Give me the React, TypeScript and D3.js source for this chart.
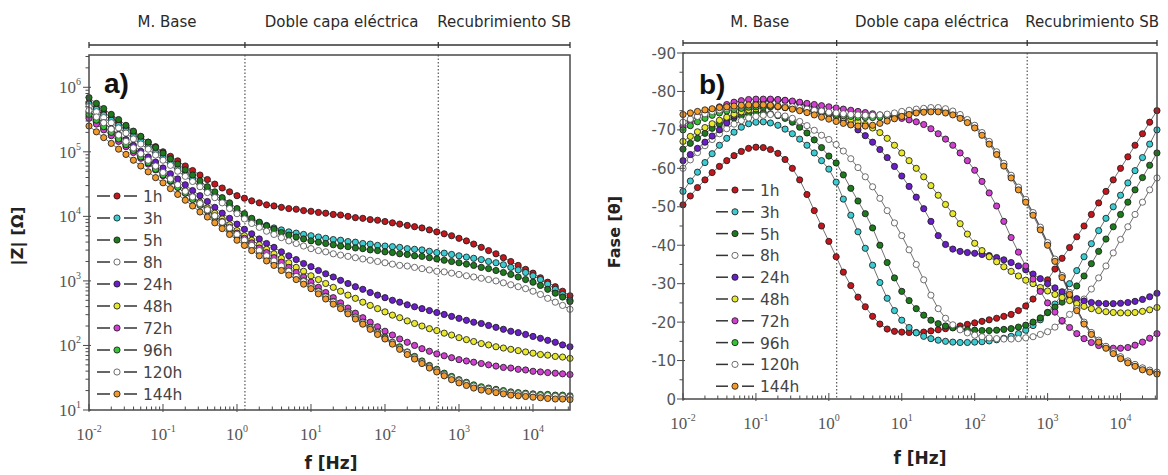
import React from "react";
import * as d3 from "d3";

// ---------------- DATA ----------------
const FREQ_HZ = [
  0.01, 0.0126, 0.0158, 0.02, 0.0251, 0.0316, 0.0398, 0.0501, 0.0631, 0.0794,
  0.1, 0.126, 0.158, 0.2, 0.251, 0.316, 0.398, 0.501, 0.631, 0.794,
  1, 1.26, 1.58, 2, 2.51, 3.16, 3.98, 5.01, 6.31, 7.94,
  10, 12.6, 15.8, 20, 25.1, 31.6, 39.8, 50.1, 63.1, 79.4,
  100, 126, 158, 200, 251, 316, 398, 501, 631, 794,
  1000, 1260, 1580, 2000, 2510, 3160, 3980, 5010, 6310, 7940,
  10000, 12600, 15800, 20000, 25100, 31600,
];

const SERIES_LABELS = ["1h", "3h", "5h", "8h", "24h", "48h", "72h", "96h", "120h", "144h"];

// |Z| in ohm
const Z_1H = [
  5.75e5, 4.79e5, 4.07e5, 3.39e5, 2.88e5, 2.4e5, 2.0e5, 1.7e5, 1.41e5, 1.2e5,
  1.0e5, 8.51e4, 7.24e4, 6.03e4, 5.13e4, 4.37e4, 3.72e4, 3.16e4, 2.75e4, 2.4e4,
  2.09e4, 1.91e4, 1.74e4, 1.62e4, 1.51e4, 1.45e4, 1.38e4, 1.32e4, 1.29e4, 1.23e4,
  1.2e4, 1.15e4, 1.12e4, 1.07e4, 1.05e4, 1.0e4, 9550, 9330, 8910, 8710,
  8320, 7940, 7590, 7240, 6920, 6610, 6170, 5750, 5370, 5010,
  4570, 4170, 3720, 3310, 2950, 2630, 2290, 2000, 1740, 1510,
  1320, 1120, 955, 813, 692, 589,
];
const Z_3H = [
  5.5e5, 4.57e5, 3.72e5, 3.09e5, 2.57e5, 2.14e5, 1.74e5, 1.45e5, 1.2e5, 9.77e4,
  8.13e4, 6.76e4, 5.5e4, 4.57e4, 3.8e4, 3.16e4, 2.57e4, 2.14e4, 1.78e4, 1.45e4,
  1.2e4, 1.02e4, 8910, 7940, 7240, 6610, 6170, 5750, 5500, 5250,
  5010, 4790, 4570, 4370, 4270, 4070, 3980, 3800, 3720, 3550,
  3470, 3390, 3310, 3160, 3090, 3020, 2880, 2750, 2690, 2570,
  2450, 2340, 2240, 2140, 2000, 1910, 1780, 1620, 1480, 1350,
  1200, 1050, 891, 741, 617, 501,
];
const Z_5H = [
  6.92e5, 5.62e5, 4.68e5, 3.8e5, 3.16e5, 2.57e5, 2.09e5, 1.74e5, 1.41e5, 1.17e5,
  9.55e4, 7.76e4, 6.46e4, 5.25e4, 4.37e4, 3.55e4, 2.88e4, 2.4e4, 1.95e4, 1.62e4,
  1.32e4, 1.1e4, 9330, 8130, 7080, 6310, 5620, 5130, 4790, 4470,
  4170, 3980, 3800, 3630, 3470, 3390, 3240, 3160, 3020, 2950,
  2820, 2750, 2630, 2570, 2450, 2400, 2290, 2190, 2090, 2000,
  1910, 1820, 1740, 1620, 1550, 1450, 1350, 1260, 1150, 1050,
  955, 851, 741, 646, 562, 479,
];
const Z_8H = [
  5.01e5, 4.17e5, 3.39e5, 2.82e5, 2.34e5, 1.95e5, 1.58e5, 1.32e5, 1.1e5, 8.91e4,
  7.41e4, 6.17e4, 5.01e4, 4.17e4, 3.47e4, 2.88e4, 2.34e4, 1.95e4, 1.62e4, 1.32e4,
  1.1e4, 9120, 7760, 6760, 5890, 5250, 4680, 4170, 3800, 3470,
  3160, 2950, 2820, 2630, 2510, 2400, 2290, 2190, 2090, 2000,
  1910, 1820, 1740, 1700, 1620, 1550, 1480, 1410, 1380, 1320,
  1260, 1200, 1150, 1100, 1050, 1000, 933, 871, 813, 759,
  692, 617, 537, 468, 417, 363,
];
const Z_24H = [
  4.17e5, 3.39e5, 2.82e5, 2.29e5, 1.86e5, 1.55e5, 1.26e5, 1.02e5, 8.32e4, 6.92e4,
  5.62e4, 4.57e4, 3.8e4, 3.09e4, 2.51e4, 2.09e4, 1.7e4, 1.38e4, 1.12e4, 9330,
  7590, 6310, 5370, 4470, 3800, 3310, 2820, 2450, 2140, 1860,
  1660, 1450, 1290, 1150, 1020, 912, 813, 741, 661, 603,
  550, 501, 468, 427, 398, 372, 347, 324, 302, 282,
  263, 245, 229, 219, 204, 191, 178, 166, 158, 148,
  138, 129, 120, 112, 102, 95.5,
];
const Z_48H = [
  3.55e5, 2.88e5, 2.34e5, 1.91e5, 1.58e5, 1.29e5, 1.05e5, 8.51e4, 6.92e4, 5.62e4,
  4.68e4, 3.8e4, 3.09e4, 2.51e4, 2.04e4, 1.66e4, 1.35e4, 1.12e4, 9120, 7410,
  6030, 5010, 4270, 3630, 3090, 2630, 2240, 1910, 1620, 1410,
  1200, 1050, 912, 794, 692, 603, 537, 468, 417, 372,
  331, 295, 269, 240, 219, 200, 182, 170, 155, 145,
  132, 123, 115, 107, 102, 95.5, 91.2, 87.1, 83.2, 79.4,
  75.9, 72.4, 70.8, 67.6, 66.1, 63.1,
];
const Z_72H = [
  3.31e5, 2.69e5, 2.19e5, 1.78e5, 1.45e5, 1.2e5, 9.77e4, 7.94e4, 6.46e4, 5.25e4,
  4.27e4, 3.47e4, 2.82e4, 2.29e4, 1.86e4, 1.55e4, 1.26e4, 1.02e4, 8320, 6760,
  5500, 4570, 3890, 3240, 2750, 2290, 1950, 1620, 1350, 1150,
  955, 794, 661, 550, 457, 380, 316, 269, 229, 195,
  166, 145, 126, 112, 100, 89.1, 81.3, 74.1, 69.2, 64.6,
  60.3, 57.5, 55.0, 52.5, 50.1, 47.9, 45.7, 44.7, 42.7, 41.7,
  39.8, 38.9, 38.0, 37.2, 36.3, 35.5,
];
const Z_96H = [
  3.8e5, 3.09e5, 2.45e5, 2.0e5, 1.58e5, 1.29e5, 1.05e5, 8.32e4, 6.76e4, 5.37e4,
  4.37e4, 3.55e4, 2.82e4, 2.29e4, 1.82e4, 1.48e4, 1.2e4, 9550, 7760, 6170,
  5010, 4170, 3470, 2880, 2400, 2000, 1660, 1410, 1170, 1000,
  832, 692, 575, 479, 398, 331, 275, 229, 191, 162,
  135, 112, 95.5, 79.4, 67.6, 57.5, 49.0, 42.7, 37.2, 33.1,
  29.5, 26.9, 24.5, 22.9, 21.9, 20.9, 20.0, 19.1, 18.6, 18.2,
  17.8, 17.4, 17.4, 17.0, 17.0, 16.6,
];
const Z_120H = [
  4.37e5, 3.47e5, 2.82e5, 2.24e5, 1.82e5, 1.45e5, 1.15e5, 9.33e4, 7.41e4, 6.03e4,
  4.79e4, 3.8e4, 3.09e4, 2.45e4, 2.0e4, 1.58e4, 1.26e4, 1.02e4, 8130, 6610,
  5250, 4270, 3550, 2950, 2450, 2040, 1700, 1410, 1170, 977,
  813, 676, 562, 468, 389, 324, 269, 224, 186, 155,
  129, 110, 91.2, 77.6, 64.6, 55.0, 46.8, 40.7, 35.5, 31.6,
  28.2, 25.7, 23.4, 21.9, 20.9, 20.0, 19.1, 18.2, 17.8, 17.4,
  17.0, 16.6, 16.6, 16.2, 16.2, 15.8,
];
const Z_144H = [
  2.51e5, 2.04e5, 1.66e5, 1.35e5, 1.1e5, 9.12e4, 7.41e4, 6.03e4, 4.9e4, 3.98e4,
  3.31e4, 2.69e4, 2.19e4, 1.78e4, 1.45e4, 1.17e4, 9770, 7940, 6460, 5250,
  4270, 3550, 2950, 2450, 2040, 1740, 1450, 1230, 1050, 891,
  759, 631, 525, 437, 372, 309, 257, 214, 178, 148,
  126, 105, 87.1, 72.4, 61.7, 52.5, 44.7, 38.9, 33.9, 29.5,
  26.3, 24.0, 21.9, 20.4, 19.5, 18.6, 17.8, 17.0, 16.6, 16.2,
  15.8, 15.5, 15.1, 14.8, 14.8, 14.5,
];

// Phase in degrees
const PH_1H = [
  -50.5, -52.8, -55.0, -57.0, -58.9, -60.5, -62.0, -63.3, -64.4, -65.2,
  -65.5, -65.4, -64.9, -63.9, -62.3, -60.0, -57.0, -53.2, -49.0, -45.0,
  -41.0, -37.0, -33.0, -29.5, -26.5, -24.0, -21.5, -19.5, -18.2, -17.6,
  -17.4, -17.3, -17.3, -17.4, -17.7, -18.0, -18.3, -18.6, -19.0, -19.4,
  -19.8, -20.2, -20.6, -21.0, -21.5, -22.0, -23.0, -24.2, -26.0, -28.3,
  -31.0, -33.8, -36.6, -39.4, -42.2, -45.0, -48.0, -51.0, -54.0, -57.0,
  -60.0, -63.0, -66.0, -69.0, -72.0, -75.0,
];
const PH_3H = [
  -54.0, -56.7, -59.0, -61.5, -63.8, -66.0, -67.8, -69.4, -70.7, -71.6,
  -72.0, -72.1, -71.8, -71.2, -70.2, -69.0, -67.6, -66.0, -64.0, -62.0,
  -59.8, -56.4, -52.0, -47.8, -43.5, -39.2, -34.8, -30.3, -26.2, -23.0,
  -20.5, -18.6, -17.2, -16.3, -15.7, -15.3, -15.0, -14.8, -14.7, -14.7,
  -14.8, -14.9, -15.1, -15.4, -15.8, -16.3, -17.0, -17.9, -19.1, -20.6,
  -22.5, -24.7, -27.2, -30.0, -33.4, -37.0, -40.4, -43.8, -47.0, -50.0,
  -53.0, -56.2, -59.4, -62.8, -66.3, -70.0,
];
const PH_5H = [
  -65.0, -66.5, -67.8, -69.1, -70.4, -71.5, -72.4, -73.1, -73.7, -74.2,
  -74.5, -74.5, -74.2, -73.7, -73.0, -72.0, -70.7, -69.2, -67.4, -65.4,
  -63.2, -61.4, -58.3, -54.8, -51.5, -48.2, -44.5, -40.0, -35.5, -31.5,
  -28.0, -25.6, -23.5, -21.8, -20.5, -19.6, -19.0, -18.5, -18.2, -18.0,
  -17.9, -17.8, -17.8, -17.9, -18.1, -18.3, -18.7, -19.2, -20.0, -21.1,
  -22.5, -23.9, -25.2, -27.0, -29.4, -32.0, -35.2, -38.4, -41.6, -44.8,
  -48.0, -51.2, -54.4, -57.6, -60.8, -64.0,
];
const PH_8H = [
  -60.0, -62.2, -64.1, -65.9, -67.5, -69.0, -70.3, -71.5, -72.4, -73.1,
  -73.5, -73.8, -74.0, -73.9, -73.6, -73.0, -72.2, -71.1, -69.9, -68.6,
  -67.5, -66.2, -64.5, -62.5, -60.2, -57.8, -55.2, -52.2, -49.0, -45.8,
  -42.5, -38.8, -35.0, -31.0, -27.0, -23.5, -21.0, -19.3, -18.0, -17.2,
  -16.6, -16.2, -15.9, -15.7, -15.6, -15.6, -15.7, -15.9, -16.2, -16.8,
  -17.5, -18.7, -20.2, -22.0, -23.9, -26.0, -28.6, -31.5, -34.6, -38.0,
  -41.5, -44.8, -48.0, -51.2, -54.4, -57.5,
];
const PH_24H = [
  -62.0, -63.6, -65.2, -66.8, -68.4, -70.0, -71.8, -73.6, -75.2, -76.3,
  -77.0, -77.5, -77.8, -77.8, -77.6, -77.3, -76.9, -76.4, -75.8, -75.2,
  -74.5, -73.6, -72.6, -71.4, -70.0, -68.5, -66.8, -64.9, -62.8, -60.5,
  -58.0, -55.3, -52.5, -49.5, -46.2, -42.5, -40.2, -39.0, -38.4, -38.1,
  -37.9, -37.6, -37.3, -36.8, -36.2, -35.5, -34.6, -33.6, -32.5, -31.3,
  -30.0, -28.9, -27.9, -26.9, -26.1, -25.5, -25.1, -24.9, -24.8, -24.8,
  -24.9, -25.1, -25.4, -25.9, -26.6, -27.5,
];
const PH_48H = [
  -67.0, -68.3, -69.5, -70.6, -71.6, -72.5, -73.3, -74.1, -74.7, -75.2,
  -75.5, -75.8, -76.0, -76.0, -75.8, -75.6, -75.4, -75.1, -74.8, -74.4,
  -74.0, -73.6, -73.2, -72.7, -72.1, -71.4, -70.5, -69.3, -67.8, -66.0,
  -64.0, -62.0, -60.0, -57.8, -55.5, -53.0, -50.6, -48.2, -45.6, -42.9,
  -40.5, -38.6, -37.0, -35.7, -34.4, -33.2, -32.0, -30.9, -30.0, -29.0,
  -28.1, -27.2, -26.4, -25.6, -24.8, -24.1, -23.5, -23.0, -22.7, -22.5,
  -22.4, -22.4, -22.5, -22.8, -23.2, -23.8,
];
const PH_72H = [
  -71.0, -72.3, -73.5, -74.5, -75.3, -76.0, -76.6, -77.2, -77.6, -77.9,
  -78.0, -78.0, -78.0, -77.9, -77.7, -77.5, -77.2, -76.9, -76.6, -76.3,
  -76.0, -75.7, -75.4, -75.1, -74.8, -74.5, -74.2, -73.9, -73.6, -73.3,
  -73.0, -72.6, -72.1, -71.4, -70.3, -69.0, -67.6, -66.0, -64.0, -62.0,
  -59.5, -56.6, -53.6, -50.2, -46.2, -42.0, -38.2, -34.6, -31.2, -28.0,
  -25.0, -22.6, -20.4, -18.6, -17.0, -15.7, -14.7, -13.9, -13.4, -13.2,
  -13.2, -13.4, -14.0, -14.8, -15.8, -17.0,
];
const PH_96H = [
  -70.0, -71.1, -72.1, -73.0, -73.8, -74.4, -74.9, -75.3, -75.6, -75.9,
  -76.0, -76.1, -76.1, -76.0, -75.8, -75.6, -75.4, -75.1, -74.8, -74.6,
  -74.3, -74.0, -73.7, -73.5, -73.3, -73.2, -73.2, -73.3, -73.5, -73.7,
  -74.0, -74.4, -74.8, -75.1, -75.3, -75.3, -75.0, -74.4, -73.5, -72.4,
  -71.0, -69.1, -66.8, -64.1, -61.1, -58.0, -54.9, -51.7, -48.3, -44.5,
  -40.5, -36.2, -32.0, -27.6, -23.4, -19.9, -17.2, -15.2, -13.6, -12.2,
  -10.9, -9.8, -8.9, -8.0, -7.4, -6.9,
];
const PH_120H = [
  -72.0, -72.8, -73.5, -74.2, -74.8, -75.2, -75.6, -75.9, -76.2, -76.4,
  -76.5, -76.5, -76.5, -76.3, -76.1, -76.0, -75.7, -75.4, -75.1, -74.9,
  -74.6, -74.4, -74.2, -74.0, -73.9, -73.8, -73.8, -73.9, -74.1, -74.4,
  -74.8, -75.1, -75.4, -75.6, -75.8, -75.8, -75.5, -74.9, -74.0, -72.7,
  -71.2, -69.3, -67.0, -64.3, -61.3, -58.2, -55.1, -51.9, -48.5, -44.7,
  -40.7, -36.4, -32.1, -27.7, -23.5, -20.0, -17.3, -15.3, -13.7, -12.3,
  -11.0, -9.9, -9.0, -8.1, -7.5, -7.0,
];
const PH_144H = [
  -74.0, -74.4, -74.8, -75.2, -75.5, -75.8, -76.0, -76.2, -76.4, -76.5,
  -76.5, -76.5, -76.4, -76.1, -75.8, -75.4, -75.0, -74.5, -73.9, -73.3,
  -72.8, -72.2, -71.7, -71.3, -71.0, -71.0, -71.2, -71.7, -72.3, -72.9,
  -73.5, -74.0, -74.4, -74.6, -74.7, -74.7, -74.4, -73.9, -73.0, -71.9,
  -70.5, -68.6, -66.3, -63.6, -60.6, -57.5, -54.4, -51.2, -47.8, -44.0,
  -40.0, -35.8, -31.6, -27.2, -23.0, -19.5, -16.8, -14.8, -13.2, -11.8,
  -10.5, -9.4, -8.5, -7.6, -7.0, -6.5,
];

const Z_SERIES = [Z_1H, Z_3H, Z_5H, Z_8H, Z_24H, Z_48H, Z_72H, Z_96H, Z_120H, Z_144H];
const PHASE_SERIES = [PH_1H, PH_3H, PH_5H, PH_8H, PH_24H, PH_48H, PH_72H, PH_96H, PH_120H, PH_144H];

const SECTION_LABELS = ["M. Base", "Doble capa eléctrica", "Recubrimiento SB"];
const SECTION_BOUNDS_HZ = [0.01, 1.28, 525, 31623];
const FREQ_DOMAIN = [0.01, 31623];
const Z_DOMAIN = [10, 3162278];
const PHASE_DOMAIN = [0, -90];
const PHASE_TICKS = [0, -10, -20, -30, -40, -50, -60, -70, -80, -90];
const PHASE_MINOR_TICKS = [-5, -15, -25, -35, -45, -55, -65, -75, -85];

// ---------------- STYLE ----------------
const FILLS = ["#c3161d", "#3ccbd0", "#1d7a1d", "#ffffff", "#6a1ec8", "#e8e82c", "#d03fd0", "#36c236", "#ffffff", "#f29a2c"];
const OPEN = [false, false, false, true, false, false, false, false, true, false];
const AXIS_COL = "#4a4a4a";
const SANS = "'DejaVu Sans', Verdana, sans-serif";
const SERIF = "'Liberation Serif', 'Times New Roman', serif";

type Scale = (v: number) => number;

function Marker({ cx, cy, i }: { cx: number; cy: number; i: number }) {
  return (
    <circle
      cx={cx}
      cy={cy}
      r={3.1}
      fill={FILLS[i]}
      stroke={OPEN[i] ? "#555" : "#1c1c1c"}
      strokeWidth={0.85}
    />
  );
}

function SectionHeader({ x, bracketY, textY }: { x: Scale; bracketY: number; textY: number }) {
  const xs = SECTION_BOUNDS_HZ.map((f) => x(f));
  return (
    <g>
      <line x1={xs[0]} x2={xs[3]} y1={bracketY} y2={bracketY} stroke="#333" strokeWidth={1.3} />
      {xs.map((v, i) => (
        <line key={i} x1={v} x2={v} y1={bracketY - 3} y2={bracketY + 3} stroke="#333" strokeWidth={1.3} />
      ))}
      {SECTION_LABELS.map((s, i) => {
        const cx = (xs[i] + xs[i + 1]) / 2;
        return (
          <text key={s} x={cx} y={textY} textAnchor="middle" fontFamily={SANS} fontSize={15} fill="#2a2a2a">
            {s}
          </text>
        );
      })}
    </g>
  );
}

function XAxisLog({ x, y0, labelY }: { x: any; y0: number; labelY: number }) {
  const ticks: number[] = x.ticks();
  return (
    <g>
      {ticks.map((t, i) => {
        const e = Math.log10(t);
        const major = Math.abs(e - Math.round(e)) < 1e-6;
        const px = x(t);
        return (
          <g key={i}>
            <line x1={px} x2={px} y1={major ? y0 - 6 : y0 - 3.5} y2={major ? y0 + 2 : y0} stroke={AXIS_COL} strokeWidth={1} />
            {major && (
              <text x={px} y={labelY} textAnchor="middle" fontFamily={SERIF} fontSize={17} fill="#555">
                10<tspan dy={-8} fontSize={10}>{Math.round(e)}</tspan>
              </text>
            )}
          </g>
        );
      })}
    </g>
  );
}

function ImpedancePanel() {
  const left = 89, right = 570, top = 55, bottom = 410;
  const x = d3.scaleLog().domain(FREQ_DOMAIN).range([left, right]);
  const y = d3.scaleLog().domain(Z_DOMAIN).range([bottom, top]);
  const line = d3
    .line<number>()
    .x((_, i) => x(FREQ_HZ[i]))
    .y((d) => y(d));
  const yTicks: number[] = y.ticks();
  return (
    <g>
      <SectionHeader x={x} bracketY={45} textY={27} />
      {[SECTION_BOUNDS_HZ[1], SECTION_BOUNDS_HZ[2]].map((f, i) => (
        <line key={i} x1={x(f)} x2={x(f)} y1={top} y2={bottom} stroke="#555" strokeWidth={1.2} strokeDasharray="1.5,2" />
      ))}
      {Z_SERIES.map((s, si) => (
        <path key={"l" + si} d={line(s) || ""} fill="none" stroke="#333" strokeWidth={0.7} />
      ))}
      {Z_SERIES.map((s, si) => (
        <g key={"m" + si}>
          {s.map((v, i) => (
            <Marker key={i} cx={x(FREQ_HZ[i])} cy={y(v)} i={si} />
          ))}
        </g>
      ))}
      <rect x={left} y={top} width={right - left} height={bottom - top} fill="none" stroke={AXIS_COL} strokeWidth={1.5} />
      <XAxisLog x={x} y0={bottom} labelY={440} />
      {yTicks.map((t, i) => {
        const e = Math.log10(t);
        const major = Math.abs(e - Math.round(e)) < 1e-6;
        const py = y(t);
        return (
          <g key={i}>
            <line x1={major ? left - 6 : left - 3.5} x2={major ? left + 2 : left} y1={py} y2={py} stroke={AXIS_COL} strokeWidth={1} />
            {major && (
              <text x={left - 8} y={py + 6} textAnchor="end" fontFamily={SERIF} fontSize={17} fill="#555">
                10<tspan dy={-8} fontSize={10}>{Math.round(e)}</tspan>
              </text>
            )}
          </g>
        );
      })}
      <text transform={`translate(23,236) rotate(-90)`} textAnchor="middle" fontFamily={SANS} fontWeight="bold" fontSize={16.5} fill="#222">
        |Z| [Ω]
      </text>
      <text x={331} y={469} textAnchor="middle" fontFamily={SANS} fontWeight="bold" fontSize={17} fill="#222">
        f [Hz]
      </text>
      <text x={104} y={93} fontFamily="'Liberation Sans', Arial, sans-serif" fontWeight="bold" fontSize={28} fill="#111">
        a)
      </text>
      {SERIES_LABELS.map((lab, i) => {
        const ly = 196 + i * 22;
        return (
          <g key={lab}>
            <line x1={97} x2={110} y1={ly} y2={ly} stroke="#333" strokeWidth={1.5} />
            <line x1={124} x2={137} y1={ly} y2={ly} stroke="#333" strokeWidth={1.5} />
            <Marker cx={117} cy={ly} i={i} />
            <text x={143} y={ly + 6} fontFamily={SANS} fontSize={15.5} fill="#444">
              {lab}
            </text>
          </g>
        );
      })}
    </g>
  );
}

function PhasePanel() {
  const left = 683, right = 1157, top = 53, bottom = 399;
  const x = d3.scaleLog().domain(FREQ_DOMAIN).range([left, right]);
  const y = d3.scaleLinear().domain(PHASE_DOMAIN).range([bottom, top]);
  const line = d3
    .line<number>()
    .x((_, i) => x(FREQ_HZ[i]))
    .y((d) => y(d));
  return (
    <g>
      <SectionHeader x={x} bracketY={43} textY={27} />
      {[SECTION_BOUNDS_HZ[1], SECTION_BOUNDS_HZ[2]].map((f, i) => (
        <line key={i} x1={x(f)} x2={x(f)} y1={top} y2={bottom} stroke="#555" strokeWidth={1.2} strokeDasharray="1.5,2" />
      ))}
      {PHASE_SERIES.map((s, si) => (
        <path key={"l" + si} d={line(s) || ""} fill="none" stroke="#333" strokeWidth={0.7} />
      ))}
      {PHASE_SERIES.map((s, si) => (
        <g key={"m" + si}>
          {s.map((v, i) => (
            <Marker key={i} cx={x(FREQ_HZ[i])} cy={y(v)} i={si} />
          ))}
        </g>
      ))}
      <rect x={left} y={top} width={right - left} height={bottom - top} fill="none" stroke={AXIS_COL} strokeWidth={1.5} />
      <XAxisLog x={x} y0={bottom} labelY={429} />
      {PHASE_TICKS.map((t) => (
        <g key={t}>
          <line x1={left - 6} x2={left + 2} y1={y(t)} y2={y(t)} stroke={AXIS_COL} strokeWidth={1} />
          <text x={left - 7} y={y(t) + 5.5} textAnchor="end" fontFamily={SANS} fontSize={15} fill="#555">
            {String(t)}
          </text>
        </g>
      ))}
      {PHASE_MINOR_TICKS.map((t) => (
        <line key={t} x1={left - 3.5} x2={left} y1={y(t)} y2={y(t)} stroke={AXIS_COL} strokeWidth={1} />
      ))}
      <text transform={`translate(620,232) rotate(-90)`} textAnchor="middle" fontFamily={SANS} fontWeight="bold" fontSize={16} fill="#222">
        Fase [θ]
      </text>
      <text x={920} y={464} textAnchor="middle" fontFamily={SANS} fontWeight="bold" fontSize={17} fill="#222">
        f [Hz]
      </text>
      <text x={699} y={94} fontFamily="'Liberation Sans', Arial, sans-serif" fontWeight="bold" fontSize={28} fill="#111">
        b)
      </text>
      {SERIES_LABELS.map((lab, i) => {
        const ly = 190 + i * 21.8;
        return (
          <g key={lab}>
            <line x1={716} x2={728} y1={ly} y2={ly} stroke="#333" strokeWidth={1.5} />
            <line x1={742} x2={754} y1={ly} y2={ly} stroke="#333" strokeWidth={1.5} />
            <Marker cx={735} cy={ly} i={i} />
            <text x={760} y={ly + 6} fontFamily={SANS} fontSize={15.5} fill="#444">
              {lab}
            </text>
          </g>
        );
      })}
    </g>
  );
}

export default function App() {
  return (
    <svg
      width={1168}
      height={475}
      viewBox="0 0 1168 475"
      style={{ position: "absolute", left: 0, top: 0, display: "block", background: "#fff" }}
    >
      <rect x={0} y={0} width={1168} height={475} fill="#fff" />
      <ImpedancePanel />
      <PhasePanel />
    </svg>
  );
}
